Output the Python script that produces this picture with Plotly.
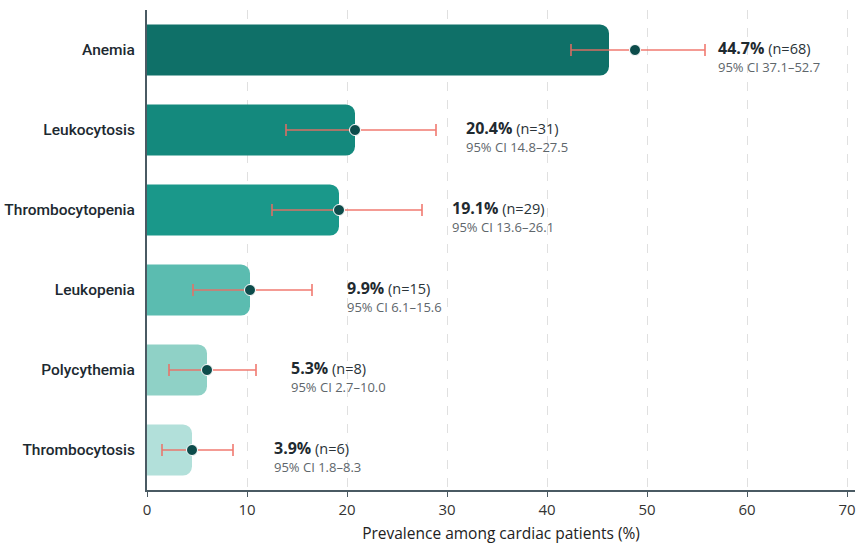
import plotly.graph_objects as go

categories = ["Anemia", "Leukocytosis", "Thrombocytopenia", "Leukopenia", "Polycythemia", "Thrombocytosis"]
bar_values = [46.2, 20.8, 19.2, 10.3, 6.0, 4.5]
point_values = [48.8, 20.8, 19.2, 10.3, 6.0, 4.5]
ci_low_drawn = [42.4, 13.9, 12.5, 4.6, 2.2, 1.5]
ci_high_drawn = [55.8, 28.9, 27.5, 16.5, 10.9, 8.6]
pct_text = ["44.7%", "20.4%", "19.1%", "9.9%", "5.3%", "3.9%"]
n_text = [68, 31, 29, 15, 8, 6]
ci_low_text = ["37.1", "14.8", "13.6", "6.1", "2.7", "1.8"]
ci_high_text = ["52.7", "27.5", "26.1", "15.6", "10.0", "8.3"]
bar_colors = ["#0f7068", "#14897d", "#1a988a", "#5bbcb0", "#8fd1c6", "#b2e0da"]
x_ticks = [0, 10, 20, 30, 40, 50, 60, 70]

fig = go.Figure()
fig.add_trace(go.Bar(
    x=bar_values, y=categories, orientation="h",
    marker=dict(color=bar_colors, cornerradius=9, line=dict(width=0)),
    width=0.64, hoverinfo="skip", showlegend=False,
))
fig.add_trace(go.Scatter(
    x=point_values, y=categories, mode="markers",
    marker=dict(color="#0d4c4b", size=11, line=dict(color="white", width=1)),
    error_x=dict(
        type="data", symmetric=False,
        array=[h - p for h, p in zip(ci_high_drawn, point_values)],
        arrayminus=[p - l for p, l in zip(point_values, ci_low_drawn)],
        color="rgba(240,108,98,0.9)", thickness=1.6, width=6,
    ),
    showlegend=False, hoverinfo="skip",
))

for cat, pct, n, lo, hi in zip(categories, pct_text, n_text, ci_low_text, ci_high_text):
    fig.add_annotation(
        x=float(hi) + 4.2, y=cat, xanchor="left", yanchor="middle", yshift=-6,
        align="left", showarrow=False,
        text=(f"<b><span style='font-size:16px;color:#1f2a30'>{pct}</span></b>"
              f"<span style='font-size:14.5px;color:#2a3338'> (n={n})</span><br>"
              f"<span style='font-size:13px;color:#5e666b'>95% CI {lo}\u2013{hi}</span>"),
        font=dict(family="Open Sans", size=14),
    )

fig.update_layout(
    width=857, height=544,
    margin=dict(l=147, r=2, t=10, b=54),
    paper_bgcolor="white", plot_bgcolor="white",
    font=dict(family="Open Sans", color="#222"),
    bargap=0.36,
)
fig.update_xaxes(
    range=[0, 70.8], tickvals=x_ticks,
    showgrid=True, gridcolor="#e0e0e0", griddash="dash", gridwidth=1,
    showline=True, linecolor="#4a5a63", linewidth=2,
    ticks="outside", tickcolor="#4a5a63", ticklen=5,
    tickfont=dict(size=15, color="#333"),
    title=dict(text="Prevalence among cardiac patients (%)", font=dict(size=15.5, color="#222"), standoff=10),
    zeroline=False,
    automargin=False,
)
fig.update_yaxes(
    categoryorder="array", categoryarray=categories[::-1],
    showline=True, linecolor="#4a5a63", linewidth=2,
    ticks="", tickfont=dict(family="Roboto", size=15.5, color="#1c2930", weight=500),
    ticklabelstandoff=7,
    automargin=False,
)

fig.write_html("out.html")
